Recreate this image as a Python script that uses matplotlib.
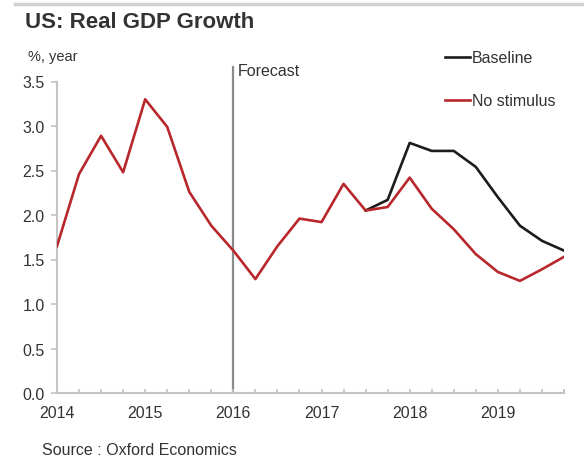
import matplotlib
matplotlib.use("Agg")
import matplotlib.pyplot as plt
from matplotlib.lines import Line2D
import numpy as np

plt.rcParams['font.family'] = ['Liberation Sans', 'DejaVu Sans']

# quarterly GDP growth, % y/y, 2014Q1 - 2019Q4
quarters = np.arange(2014, 2020, 0.25)
no_stimulus = [1.65, 2.46, 2.89, 2.48, 3.30, 2.99, 2.26, 1.88,
               1.60, 1.28, 1.65, 1.96, 1.92, 2.35, 2.05, 2.09,
               2.42, 2.07, 1.84, 1.56, 1.36, 1.26, 1.39, 1.53]
# baseline only diverges from 2017Q3 onwards
baseline_start = 14
baseline = [2.05, 2.17, 2.81, 2.72, 2.72, 2.54, 2.20, 1.88, 1.71, 1.60]
years = [2014, 2015, 2016, 2017, 2018, 2019]
forecast_at = 2016

red = '#b8272c'
black = '#1c1c1c'
txt = '#333333'
axis_grey = '#c4c4c4'
fs = 11.5

fig = plt.figure(figsize=(5.84, 4.6), dpi=100)
ax = fig.add_axes([57 / 584, 1 - 394 / 460, (564 - 57) / 584, (394 - 82.5) / 460])

l_red, = ax.plot(quarters, no_stimulus, color=red, lw=1.9, label='No stimulus', zorder=3)
l_blk, = ax.plot(quarters[baseline_start:], baseline, color=black, lw=1.9, label='Baseline', zorder=2)

ax.axvline(forecast_at, ymin=0, ymax=1.045, color='#8a8a8a', lw=1.6, clip_on=False, zorder=1)
ax.text(forecast_at + 0.05, 3.62, 'Forecast', fontsize=fs, color=txt, va='center', ha='left')

ax.set_xlim(2014, 2019.75)
ax.set_ylim(0, 3.5)
ax.set_yticks(np.arange(0, 3.51, 0.5))
ax.set_yticklabels([f'{v:.1f}' for v in np.arange(0, 3.51, 0.5)])
ax.set_xticks(years)
ax.set_xticks(list(quarters) + [2019.75], minor=True)

for s in ['top', 'right']:
    ax.spines[s].set_visible(False)
for s in ['left', 'bottom']:
    ax.spines[s].set_color(axis_grey)
    ax.spines[s].set_linewidth(1.5)

ax.tick_params(axis='y', direction='out', length=4, color=axis_grey, width=1.2,
               labelsize=fs, labelcolor=txt, pad=5)
ax.tick_params(axis='x', which='both', direction='in', length=3, color=axis_grey, width=1.2,
               labelsize=fs, labelcolor=txt, pad=9)

leg = ax.legend(handles=[l_blk, l_red], loc='upper left', bbox_to_anchor=(0.765, 1.10),
                frameon=False, fontsize=fs, handlelength=1.55, handletextpad=0.12,
                labelspacing=1.75, borderaxespad=0, borderpad=0)
for t in leg.get_texts():
    t.set_color(txt)

# header rule and title
fig.add_artist(Line2D([15 / 584, 1.0], [1 - 5 / 460, 1 - 5 / 460], color='#d0d0d0', lw=2.5))
fig.text(25 / 584, 1 - 23 / 460, 'US: Real GDP Growth', fontsize=16, fontweight='bold',
         color=txt, va='center', ha='left')
fig.text(28 / 584, 1 - 57 / 460, '%, year', fontsize=10.5, color=txt, va='center', ha='left')
fig.text(42 / 584, 1 - 451 / 460, 'Source : Oxford Economics', fontsize=fs, color=txt,
         va='center', ha='left')

fig.savefig('out.png', dpi=100, facecolor='white')
